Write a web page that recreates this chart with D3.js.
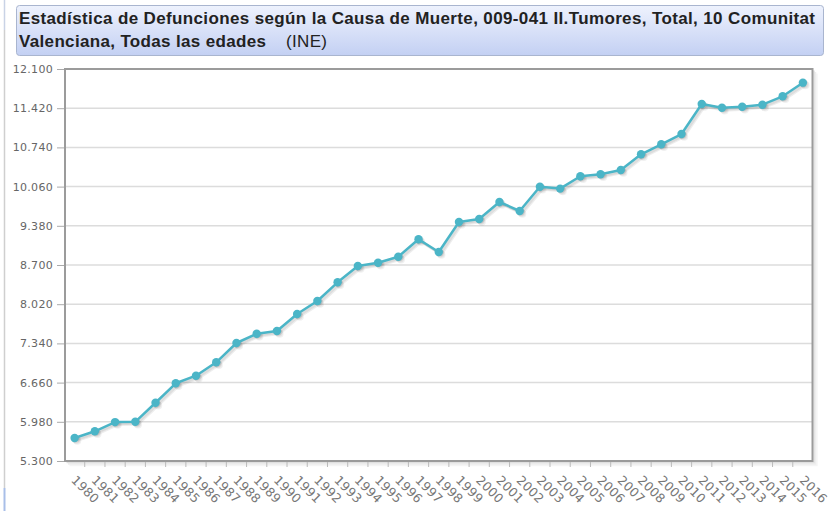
<!DOCTYPE html>
<html><head><meta charset="utf-8">
<script src="https://cdn.jsdelivr.net/npm/d3@7"></script>
<style>
html,body{margin:0;padding:0;background:#fff;}
svg{display:block;}
</style></head>
<body>
<svg id="chart" width="828" height="511"></svg>
<script>
const titleLine1 = "Estadística de Defunciones según la Causa de Muerte, 009-041 II.Tumores, Total, 10 Comunitat";
const titleLine2 = "Valenciana, Todas las edades";
const titleSource = "(INE)";
const years = [1980,1981,1982,1983,1984,1985,1986,1987,1988,1989,1990,1991,1992,1993,1994,1995,1996,1997,1998,1999,2000,2001,2002,2003,2004,2005,2006,2007,2008,2009,2010,2011,2012,2013,2014,2015,2016];
const deaths = [5700,5815,5975,5980,6310,6648,6780,7012,7347,7508,7555,7850,8076,8400,8683,8740,8844,9146,8926,9446,9498,9793,9637,10058,10025,10239,10273,10348,10620,10794,10972,11493,11429,11446,11481,11626,11863];
const yTicks = [5300,5980,6660,7340,8020,8700,9380,10060,10740,11420,12100];

const svg = d3.select("#chart");
const L = 65, R = 812.5, T = 69, B = 461;

// page edge line
svg.append("line").attr("x1",4.5).attr("x2",4.5).attr("y1",0).attr("y2",30).attr("stroke","#c9d3e6").attr("stroke-width",1.5);
svg.append("line").attr("x1",4.5).attr("x2",4.5).attr("y1",30).attr("y2",488).attr("stroke","#cfcfcf").attr("stroke-width",1.5);
svg.append("line").attr("x1",4.5).attr("x2",4.5).attr("y1",488).attr("y2",511).attr("stroke","#a9bfe8").attr("stroke-width",2);

// title box
const defs = svg.append("defs");
const g = defs.append("linearGradient").attr("id","tg").attr("x1",0).attr("y1",0).attr("x2",0).attr("y2",1);
g.append("stop").attr("offset","0%").attr("stop-color","#eef2fd");
g.append("stop").attr("offset","100%").attr("stop-color","#c3d0f3");
svg.append("rect").attr("x",16.5).attr("y",5.5).attr("width",807).attr("height",50).attr("rx",3)
  .attr("fill","url(#tg)").attr("stroke","#a9b5cf");
svg.append("text").attr("x",19).attr("y",24).attr("font-family","Liberation Sans, Arial, sans-serif")
  .attr("font-size",17).attr("font-weight","bold").attr("fill","#222")
  .attr("textLength",796).attr("lengthAdjust","spacing").text(titleLine1);
svg.append("text").attr("x",19).attr("y",47).attr("font-family","Liberation Sans, Arial, sans-serif")
  .attr("font-size",17).attr("font-weight","bold").attr("fill","#222")
  .attr("textLength",247).attr("lengthAdjust","spacing").text(titleLine2);
svg.append("text").attr("x",286).attr("y",47).attr("font-family","Liberation Sans, Arial, sans-serif")
  .attr("font-size",17).attr("fill","#222")
  .attr("textLength",41).attr("lengthAdjust","spacing").text(titleSource);

// scales
const x = d3.scaleBand().domain(years).range([L-0.5, R+0.5]);
const y = d3.scaleLinear().domain([5300,12100]).range([B, T]);
const cx = d => x(d) + x.bandwidth()/2;

// grid
svg.append("g").selectAll("line").data(yTicks.slice(1,-1)).join("line")
  .attr("x1",L).attr("x2",R).attr("y1",d=>y(d)).attr("y2",d=>y(d))
  .attr("stroke","#dcdcdc").attr("stroke-width",1.5);

// frame shadow
const sh = svg.append("g").attr("fill","none");
[[1.5,0.12],[3,0.07],[4.5,0.04]].forEach(([o,a])=>{
  sh.append("path").attr("d",`M${R+o},${T+o} L${R+o},${B+o} L${L+o},${B+o}`)
    .attr("stroke",`rgba(0,0,0,${a})`).attr("stroke-width",1.5);
});
svg.append("rect").attr("x",L).attr("y",T).attr("width",R-L).attr("height",B-T)
  .attr("fill","none").attr("stroke","#9b9b9b").attr("stroke-width",2);

// y axis
const yAxis = d3.axisLeft(y).tickValues(yTicks).tickSize(7).tickPadding(4)
  .tickFormat(d => d3.format(",")(d).replace(/,/g,"."));
const ya = svg.append("g").attr("transform",`translate(${L-1},0)`).call(yAxis);
ya.select(".domain").remove();
ya.selectAll("line").attr("stroke","#aaa");
ya.selectAll("text").attr("font-family","DejaVu Sans, sans-serif").attr("font-size",11).attr("fill","#666").attr("letter-spacing",0.3);

// x axis
const xAxis = d3.axisBottom(x).tickSize(0).tickPadding(0);
const xa = svg.append("g").attr("transform",`translate(0,${B})`).call(xAxis);
xa.select(".domain").remove();
xa.selectAll(".tick line").remove();
xa.selectAll(".tick text").attr("text-anchor","start").attr("dy",null)
  .attr("transform","translate(-4,20) rotate(45)")
  .attr("font-family","DejaVu Sans, sans-serif").attr("font-size",12.5).attr("fill","#777").attr("letter-spacing",0.2);
// tick marks at band boundaries
svg.append("g").selectAll("line").data(years.slice(1)).join("line")
  .attr("x1",d=>x(d)).attr("x2",d=>x(d)).attr("y1",B+1).attr("y2",B+6)
  .attr("stroke","#bbb").attr("stroke-width",1);

// series
const line = d3.line().x((d,i)=>cx(years[i])).y(d=>y(d));
const shadow = svg.append("g");
[1,2,3].forEach(k=>{
  shadow.append("path").datum(deaths).attr("d",line).attr("fill","none")
    .attr("stroke","rgba(0,0,0,0.07)").attr("stroke-width",2.5)
    .attr("transform",`translate(${k*0.9},${k*0.9})`);
  shadow.append("g").selectAll("circle").data(deaths).join("circle")
    .attr("cx",(d,i)=>cx(years[i])+k*0.9).attr("cy",d=>y(d)+k*0.9).attr("r",4)
    .attr("fill","rgba(0,0,0,0.06)");
});
svg.append("path").datum(deaths).attr("d",line).attr("fill","none")
  .attr("stroke","#4bb5c7").attr("stroke-width",2.5).attr("stroke-linejoin","round");
svg.append("g").selectAll("circle").data(deaths).join("circle")
  .attr("cx",(d,i)=>cx(years[i])).attr("cy",d=>y(d)).attr("r",4.2).attr("fill","#4bb5c7");
</script>
</body></html>
